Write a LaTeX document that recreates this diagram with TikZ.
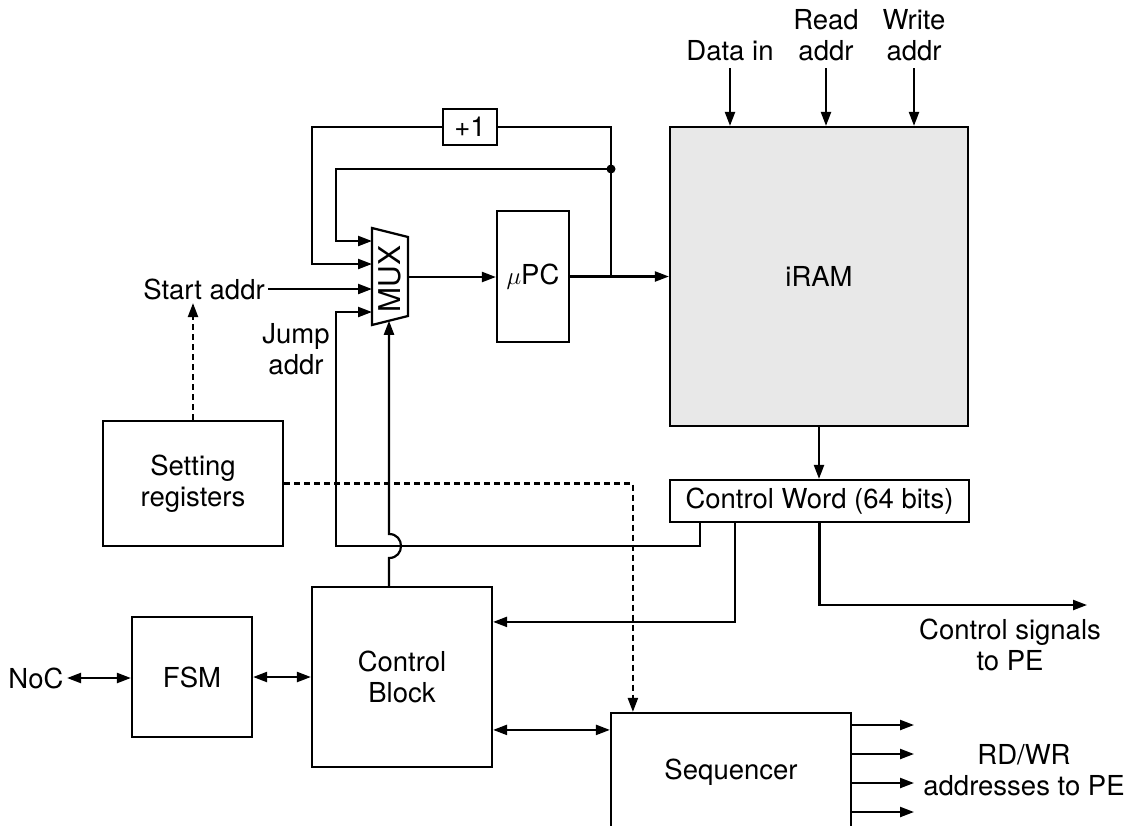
\documentclass[tikz,border=0pt]{standalone}
\usepackage{fontspec}
\setmainfont{TeX Gyre Heros}
\usetikzlibrary{arrows.meta,calc}
\definecolor{ramgray}{RGB}{232,232,232}
\tikzset{
  lw/.style={line width=2.2pt},
  arr/.style={lw,-{Triangle[length=14pt,width=10pt]}},
  dbl/.style={lw,{Triangle[length=14pt,width=10pt]}-{Triangle[length=14pt,width=10pt]}},
  dashline/.style={dash pattern=on 6pt off 4pt},
  box/.style={draw,line width=2.2pt,align=center,inner sep=0pt},
  every node/.style={font=\fontsize{27.5}{31}\selectfont}
}
\begin{document}
\begin{tikzpicture}[x=1pt,y=-1pt]
\useasboundingbox (0,0) rectangle (1134,825);
\clip (0,0) rectangle (1134,825);

% blocks
\node[box,fill=ramgray,minimum width=298pt,minimum height=299pt] (iram) at (819,276.5) {iRAM};
\node[box,minimum width=299pt,minimum height=42pt] (cw) at (819.5,501) {Control Word (64 bits)};
\node[box,minimum width=72pt,minimum height=131pt] (upc) at (533,276.5) {$\mu$PC};
\node[box,minimum width=54pt,minimum height=36pt] (plus) at (470,127) {+1};
\node[box,minimum width=180pt,minimum height=125pt] (setreg) at (193,483.5) {Setting\\registers};
\node[box,minimum width=180pt,minimum height=180pt] (cb) at (402,677) {Control\\Block};
\node[box,minimum width=120pt,minimum height=120pt] (fsm) at (192,677) {FSM};
\node[box,minimum width=240pt,minimum height=118pt] (seq) at (731,772) {Sequencer};

% MUX
\draw[lw] (372,228) -- (408,237) -- (408,316) -- (372,325) -- cycle;
\node[rotate=90,font=\fontsize{30}{32}\selectfont] (mux) at (389.5,279) {MUX};
\coordinate (m1) at (372,241);
\coordinate (m2) at (372,264);
\coordinate (m3) at (372,289);
\coordinate (m4) at (372,312);
\coordinate (mo) at (408,277);
\coordinate (ms) at (389,320.75);

% labels
\node[anchor=south] (din) at (730,64) {Data in};
\node[anchor=south,align=center] (rad) at (826,64) {Read\\addr};
\node[anchor=south,align=center] (wad) at (914,64) {Write\\addr};
\node (start) at (204,289) {Start addr};
\node[anchor=north,align=center] (jump) at (296,320) {Jump\\addr};
\node (noc) at (36,678) {NoC};
\node[anchor=north,align=center] (sig) at (1010,615) {Control signals\\to PE};
\node[anchor=north,align=center] (rdwr) at (1024,741) {RD/WR\\addresses to PE};

% iRAM inputs
\draw[arr] ($(din.south)+(0,4)$) -- (din.south |- iram.north);
\draw[arr] ($(rad.south)+(0,4)$) -- (rad.south |- iram.north);
\draw[arr] ($(wad.south)+(0,4)$) -- (wad.south |- iram.north);

% datapath
\draw[arr] (mo) -- (mo -| upc.west);
\draw[arr] (upc.east) -- (iram.west);
\coordinate (j1) at (611,276.5);
\coordinate (dot) at (611,169);
\coordinate (l2) at (312,264);
\coordinate (l1) at (336,241);
\draw[lw] (j1) |- (plus.east);
\draw[arr] (plus.west) -| (l2) -- (m2);
\draw[arr] (dot) -| (l1) -- (m1);
\fill (dot) circle (4.5pt);
\draw[arr] (start.east) -- (start.east -| m3);

% jump address
\coordinate (cwj) at ($(cw.south west)+(31,0)$);
\coordinate (jc) at (336,546);
\draw[arr] (cwj) |- (jc) |- (m4);

% select line with hop
\coordinate (sel) at ($(cb.north)+(-13,0)$);
\draw[arr] (sel) -- (389,558) .. controls (405,558) and (405,534) .. (389,534) -- (ms);

% iRAM to control word
\draw[arr] (iram.south) -- (iram.south |- cw.north);
\coordinate (cwc) at ($(cw.south west)+(66,0)$);
\draw[arr] (cwc) |- ($(cb.north east)+(0,36)$);
\coordinate (cs) at (1087,605);
\draw[arr] (cw.south) |- (cs);

% setting registers dashed
\draw[arr,dashline] (setreg.north) -- (setreg.north |- start.south);
\draw[arr,dashline] (setreg.east) -| ($(seq.north west)+(23,0)$);

% bottom
\draw[dbl] (noc.east) -- (noc.east -| fsm.west);
\draw[dbl] (fsm.east) -- (cb.west);
\coordinate (cbs) at ($(cb.north east)+(0,144)$);
\draw[dbl] (cbs) -- (cbs -| seq.west);
\foreach \y [count=\i] in {725,754,783,812} {
  \coordinate (o\i) at (914,\y);
  \draw[arr] (seq.east |- o\i) -- (o\i);
}
\end{tikzpicture}
\end{document}
